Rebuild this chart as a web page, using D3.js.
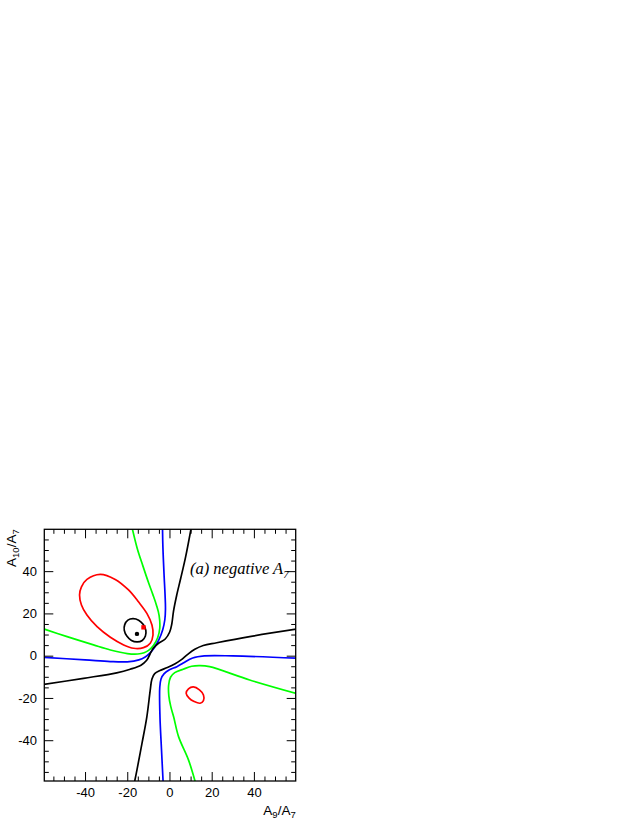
<!DOCTYPE html>
<html><head><meta charset="utf-8">
<script src="https://cdn.jsdelivr.net/npm/d3@7"></script>
<style>body{margin:0;background:#fff}</style>
</head><body>
<svg id="c" width="638" height="825"></svg>
<script>
// ---- data (A9/A7, A10/A7) ----
const xDomain = [-59.3, 59.8];
const yDomain = [-59.3, 59.8];
const majorTicks = [-40, -20, 0, 20, 40];
const minorTicks = d3.range(-55, 60, 5).filter(v => v % 20 !== 0);

const blackEllipse = [[-11.2,12.0],[-12.4,14.7],[-14.6,16.8],[-17.3,17.5],[-19.7,16.8],[-21.2,14.7],[-21.4,12.0],[-20.2,9.3],[-18.0,7.2],[-15.3,6.5],[-12.9,7.2],[-11.4,9.3]];
const redEllipse = [[-32.8,38.5],[-39.1,36.1],[-41.7,32.6],[-42.6,28.7],[-41.7,24.0],[-39.1,19.2],[-34.3,13.7],[-28.0,8.7],[-21.7,5.1],[-17.0,3.5],[-12.3,3.8],[-9.1,5.9],[-7.8,9.8],[-8.3,14.5],[-10.7,20.0],[-14.7,25.5],[-19.4,31.1],[-25.7,36.1]];
const redSmall = [[7.9,-17.8],[9.0,-15.7],[11.3,-14.8],[14.2,-16.2],[16.1,-18.6],[16.1,-21.3],[14.5,-22.5],[11.7,-21.7],[9.3,-20.1]];
const greenUpper = [[-60,12.8],[-48.5,9.0],[-36,5.1],[-28,2.7],[-20,1.0],[-15,0.8],[-12,1.4],[-9.9,2.5],[-7.6,4.8],[-5.6,8.5],[-4.6,13],[-4.9,19],[-6.2,24],[-7.9,29],[-9.9,34.5],[-12.6,42.5],[-15.2,50.5],[-17.7,60.5]];
const greenLower = [[60.5,-18.0],[38,-11.5],[19,-5.2],[14.5,-4.7],[10.5,-5.0],[6.5,-6.4],[2.5,-8.0],[0.5,-10.2],[-0.4,-14],[-0.3,-19],[0.6,-24],[2.0,-29],[4.3,-38.3],[9.0,-49.3],[12.3,-60]];
const blueUpper = [[-60,-0.8],[-40,-2.0],[-28,-2.8],[-20,-2.9],[-14.5,-2.0],[-11.5,-0.6],[-9.3,1.2],[-7.2,3.8],[-5.0,7.6],[-3.2,12.3],[-2.2,17],[-1.9,22],[-2.1,29],[-2.5,37],[-3.1,51],[-3.3,60.5]];
const blueLower = [[60.5,-1.2],[30,-0.1],[16.5,-0.1],[11,-1.1],[6.5,-3.5],[3.5,-5.2],[0,-6.7],[-2.5,-8.5],[-4.0,-11],[-4.6,-15],[-4.5,-29],[-3.8,-44],[-3.0,-60]];
const blackUpper = [[-60,-13.7],[-40.7,-10.7],[-25,-8.1],[-18.6,-6.4],[-13.5,-4.5],[-10.8,-2.2],[-9.2,0.8],[-7.6,3.6],[-5.2,5.9],[-2.0,7.9],[0.1,11.2],[1.1,15],[1.9,21],[3.4,28.5],[5.3,36.5],[7.6,46.5],[10.3,60.5]];
const blackLower = [[60.5,12.6],[38,9.0],[22.4,6.1],[16,4.8],[12,3.0],[8.5,0.5],[5.5,-2],[2.7,-3.8],[-1.0,-5.6],[-4.5,-7.0],[-7.0,-8.5],[-8.3,-11],[-9.1,-16.2],[-10.7,-28.8],[-13.0,-41.4],[-15.4,-54.0],[-16.6,-60]];
const bestFit = [[-15.4,10.3]];
const redPoint = [[-12.3,13.4]];

// ---- drawing ----
const svg = d3.select("#c");
const L = 44.3, R = 295.7, T = 529.3, B = 781;
const x = d3.scaleLinear().domain(xDomain).range([L, R]);
const y = d3.scaleLinear().domain(yDomain).range([B, T]);

svg.append("clipPath").attr("id","clip").append("rect")
  .attr("x", L).attr("y", T).attr("width", R-L).attr("height", B-T);

const g = svg.append("g").attr("clip-path","url(#clip)");
const open = d3.line().x(d=>x(d[0])).y(d=>y(d[1])).curve(d3.curveCatmullRom.alpha(0.5));
const closed = d3.line().x(d=>x(d[0])).y(d=>y(d[1])).curve(d3.curveCatmullRomClosed.alpha(0.5));

const curves = [
  [greenUpper, "#00ff00", open], [greenLower, "#00ff00", open],
  [blueUpper, "#0000ff", open], [blueLower, "#0000ff", open],
  [blackUpper, "#000000", open], [blackLower, "#000000", open],
  [redEllipse, "#ff0000", closed], [redSmall, "#ff0000", closed],
  [blackEllipse, "#000000", closed]
];
curves.forEach(([data, col, gen]) => {
  g.append("path").attr("d", gen(data)).attr("fill","none")
    .attr("stroke", col).attr("stroke-width", 1.7).attr("stroke-linejoin","round");
});
g.selectAll("circle.bf").data(bestFit).join("circle")
  .attr("cx", d=>x(d[0])).attr("cy", d=>y(d[1])).attr("r", 2.2).attr("fill","#000");
g.selectAll("rect.rp").data(redPoint).join("rect")
  .attr("x", d=>x(d[0])-2.2).attr("y", d=>y(d[1])-2.2).attr("width", 4.4).attr("height", 4.4).attr("fill","#ff0000");

// axes
const fmt = d => String(d);
function styleAxis(sel){
  sel.select(".domain").remove();
  sel.selectAll("line").attr("stroke","#000").attr("stroke-width",1);
  sel.selectAll("text").attr("font-family","'Liberation Sans', Arial, sans-serif").attr("font-size",13).attr("fill","#000");
}
svg.append("g").attr("transform",`translate(0,${B})`)
  .call(d3.axisBottom(x).tickValues(majorTicks).tickSizeInner(-9).tickSizeOuter(0).tickPadding(6.5).tickFormat(fmt)).call(styleAxis);
svg.append("g").attr("transform",`translate(0,${B})`)
  .call(d3.axisBottom(x).tickValues(minorTicks).tickSizeInner(-4.5).tickSizeOuter(0).tickFormat("")).call(styleAxis);
svg.append("g").attr("transform",`translate(0,${T})`)
  .call(d3.axisTop(x).tickValues(majorTicks).tickSizeInner(-9).tickSizeOuter(0).tickFormat("")).call(styleAxis);
svg.append("g").attr("transform",`translate(0,${T})`)
  .call(d3.axisTop(x).tickValues(minorTicks).tickSizeInner(-4.5).tickSizeOuter(0).tickFormat("")).call(styleAxis);
svg.append("g").attr("transform",`translate(${L},0)`)
  .call(d3.axisLeft(y).tickValues(majorTicks).tickSizeInner(-9).tickSizeOuter(0).tickPadding(7.3).tickFormat(fmt)).call(styleAxis);
svg.append("g").attr("transform",`translate(${L},0)`)
  .call(d3.axisLeft(y).tickValues(minorTicks).tickSizeInner(-4.5).tickSizeOuter(0).tickFormat("")).call(styleAxis);
svg.append("g").attr("transform",`translate(${R},0)`)
  .call(d3.axisRight(y).tickValues(majorTicks).tickSizeInner(-9).tickSizeOuter(0).tickFormat("")).call(styleAxis);
svg.append("g").attr("transform",`translate(${R},0)`)
  .call(d3.axisRight(y).tickValues(minorTicks).tickSizeInner(-4.5).tickSizeOuter(0).tickFormat("")).call(styleAxis);

svg.append("rect").attr("x",L).attr("y",T).attr("width",R-L).attr("height",B-T)
  .attr("fill","none").attr("stroke","#000").attr("stroke-width",1.3);

// axis titles
const xt = svg.append("text").attr("x", R).attr("y", 815).attr("text-anchor","end")
  .attr("font-family","'Liberation Sans', Arial, sans-serif").attr("font-size",13.5);
xt.append("tspan").text("A");
xt.append("tspan").attr("font-size",9.5).attr("dy",3).text("9");
xt.append("tspan").attr("dy",-3).text("/A");
xt.append("tspan").attr("font-size",9.5).attr("dy",3).text("7");

const yt = svg.append("text").attr("transform",`translate(16,${T}) rotate(-90)`).attr("text-anchor","end")
  .attr("font-family","'Liberation Sans', Arial, sans-serif").attr("font-size",13.5);
yt.append("tspan").text("A");
yt.append("tspan").attr("font-size",9.5).attr("dy",3).text("10");
yt.append("tspan").attr("dy",-3).text("/A");
yt.append("tspan").attr("font-size",9.5).attr("dy",3).text("7");

const lab = svg.append("text").attr("x", 190).attr("y", 574)
  .attr("font-family","'Liberation Serif', 'Times New Roman', serif").attr("font-style","italic").attr("font-size",16.5);
lab.append("tspan").text("(a) negative A");
lab.append("tspan").attr("font-size",11).attr("dy",4).text("7");
</script>
</body></html>
